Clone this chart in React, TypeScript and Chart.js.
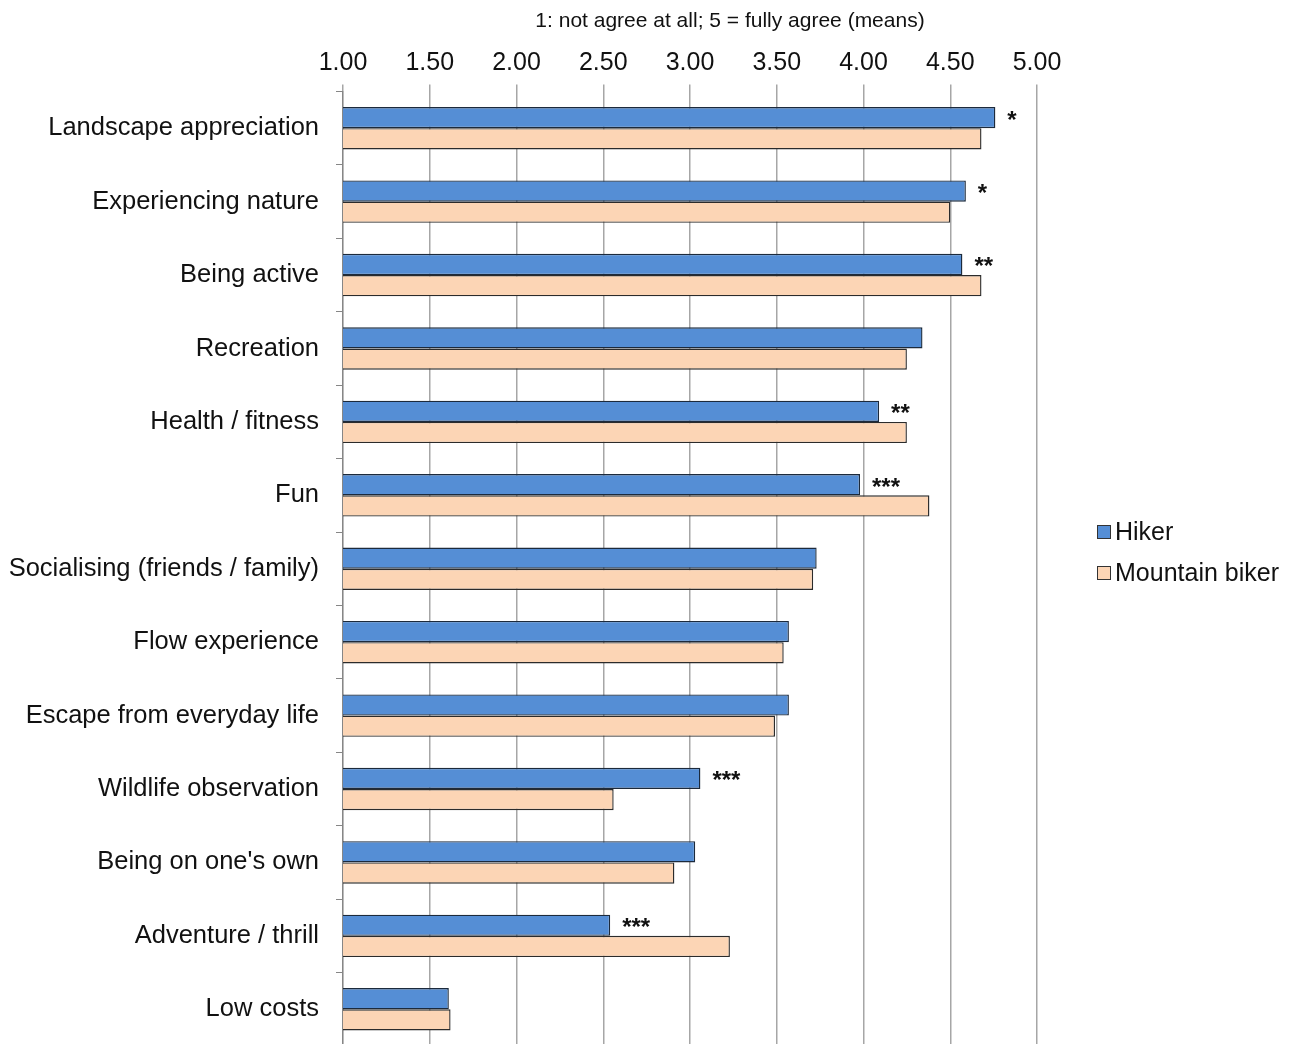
import React, { useEffect, useRef } from "react";
import { Chart, registerables } from "chart.js";

Chart.register(...registerables);

const categories = [
  "Landscape appreciation",
  "Experiencing nature",
  "Being active",
  "Recreation",
  "Health / fitness",
  "Fun",
  "Socialising (friends / family)",
  "Flow experience",
  "Escape from everyday life",
  "Wildlife observation",
  "Being on one's own",
  "Adventure / thrill",
  "Low costs",
];

const seriesNames = ["Hiker", "Mountain biker"];
const hikerValues = [4.76, 4.59, 4.57, 4.34, 4.09, 3.98, 3.73, 3.57, 3.57, 3.06, 3.03, 2.54, 1.61];
const bikerValues = [4.68, 4.5, 4.68, 4.25, 4.25, 4.38, 3.71, 3.54, 3.49, 2.56, 2.91, 3.23, 1.62];
const significance = ["*", "*", "**", "", "**", "***", "", "", "", "***", "", "***", ""];

const axisTitle = "1: not agree at all; 5 = fully agree (means)";
const xMin = 1;
const xMax = 5;
const xStep = 0.5;

const FONT = "'Liberation Sans', Arial, sans-serif";
const HIKER_COLOR = "#558ed5";
const BIKER_COLOR = "#fcd5b5";

const sigPlugin = {
  id: "sigLabels",
  afterDatasetsDraw(chart: any) {
    const meta = chart.getDatasetMeta(0);
    const ctx = chart.ctx;
    ctx.save();
    ctx.font = `bold 24px ${FONT}`;
    ctx.fillStyle = "#111";
    ctx.textAlign = "left";
    ctx.textBaseline = "alphabetic";
    meta.data.forEach((bar: any, i: number) => {
      const s = significance[i];
      if (!s) return;
      ctx.fillText(s, bar.x + 12, bar.y + 10);
    });
    ctx.restore();
  },
};

const titlePlugin = {
  id: "axisTitleText",
  afterDraw(chart: any) {
    const ctx = chart.ctx;
    ctx.save();
    ctx.font = `21px ${FONT}`;
    ctx.fillStyle = "#111";
    ctx.textAlign = "center";
    ctx.textBaseline = "middle";
    ctx.fillText(axisTitle, 730, 21);
    ctx.restore();
  },
};

const legendPlugin = {
  id: "customLegend",
  afterDraw(chart: any) {
    const ctx = chart.ctx;
    const colors = [HIKER_COLOR, BIKER_COLOR];
    const x = 1097;
    const ys = [532, 573];
    ctx.save();
    ctx.font = `25px ${FONT}`;
    ctx.textBaseline = "middle";
    ctx.textAlign = "left";
    seriesNames.forEach((name, i) => {
      ctx.fillStyle = colors[i];
      ctx.fillRect(x, ys[i] - 7, 14, 14);
      ctx.strokeStyle = "#333";
      ctx.lineWidth = 1;
      ctx.strokeRect(x + 0.5, ys[i] - 6.5, 13, 13);
      ctx.fillStyle = "#111";
      ctx.fillText(name, x + 18, ys[i] + 1);
    });
    ctx.restore();
  },
};

export default function App() {
  const canvasRef = useRef<HTMLCanvasElement | null>(null);

  useEffect(() => {
    document.body.style.margin = "0";
    document.body.style.overflow = "hidden";
    document.documentElement.style.overflow = "hidden";
    const canvas = canvasRef.current;
    if (!canvas) return;
    const chart = new Chart(canvas, {
      type: "bar",
      data: {
        labels: categories,
        datasets: [
          {
            label: seriesNames[0],
            data: hikerValues,
            backgroundColor: HIKER_COLOR,
            borderColor: "#1c2a3c",
            borderWidth: 1.4,
            barPercentage: 1,
            categoryPercentage: 0.578,
          },
          {
            label: seriesNames[1],
            data: bikerValues,
            backgroundColor: BIKER_COLOR,
            borderColor: "#2b2b2b",
            borderWidth: 1.4,
            barPercentage: 1,
            categoryPercentage: 0.578,
          },
        ],
      },
      options: {
        indexAxis: "y",
        animation: false,
        responsive: false,
        maintainAspectRatio: false,
        layout: { padding: { left: 0, right: 255, top: 0, bottom: 0 } },
        plugins: {
          legend: { display: false },
          tooltip: { enabled: false },
        },
        scales: {
          x: {
            position: "top",
            min: xMin,
            max: xMax,
            ticks: {
              stepSize: xStep,
              padding: 6,
              color: "#111",
              font: { family: FONT, size: 25 },
              callback: (v: any) => Number(v).toFixed(2),
              maxRotation: 0,
            },
            grid: {
              color: "#a6a6a6",
              lineWidth: 1.5,
              tickLength: 7,
              drawTicks: true,
            },
            border: { display: false },
            afterFit: (scale: any) => {
              scale.height = 91.5;
            },
          },
          y: {
            position: "left",
            ticks: {
              padding: 17,
              color: "#111",
              font: { family: FONT, size: 25.5 },
            },
            grid: {
              drawOnChartArea: false,
              drawTicks: true,
              tickLength: 7,
              color: "#868686",
              lineWidth: 1,
            },
            border: { display: true, color: "#868686", width: 1.3 },
            afterFit: (scale: any) => {
              scale.width = 343;
              scale.paddingTop = 0;
              scale.paddingBottom = 0;
            },
          },
        },
      },
      plugins: [sigPlugin, titlePlugin, legendPlugin],
    } as any);
    return () => chart.destroy();
  }, []);

  return (
    <div style={{ width: 1292, height: 1046 }}>
      <canvas ref={canvasRef} width={1292} height={1046} style={{ display: "block" }} />
    </div>
  );
}
